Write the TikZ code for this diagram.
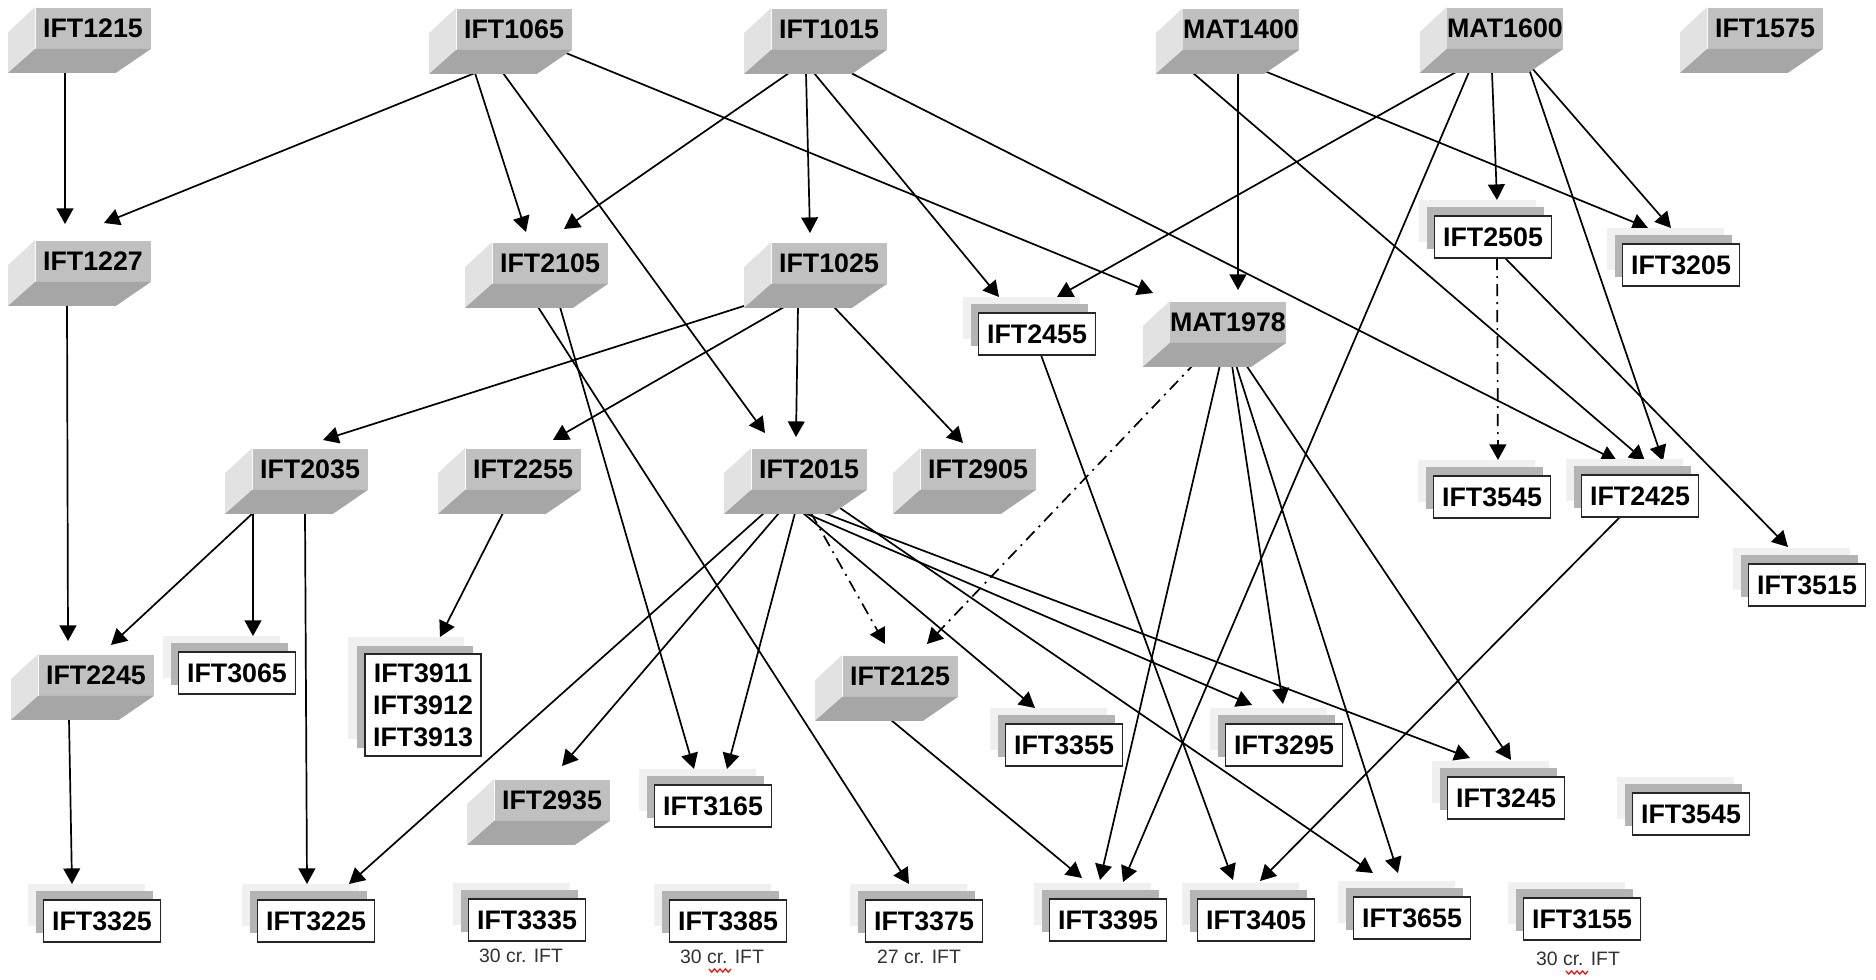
\documentclass[tikz,border=0pt]{standalone}
\usepackage{fontspec}
\setmainfont{Liberation Sans}
\usetikzlibrary{arrows.meta,calc}
\pgfdeclarelayer{bglayer}
\pgfdeclarelayer{edgelayer}
\pgfsetlayers{bglayer,edgelayer,main}
\definecolor{faceC}{RGB}{192,192,192}
\definecolor{leftC}{RGB}{226,226,226}
\definecolor{botC}{RGB}{166,166,166}
\definecolor{shLight}{RGB}{240,240,240}
\definecolor{shMid}{RGB}{180,180,180}
\definecolor{lblC}{RGB}{50,50,50}
\tikzset{
  codefont/.style={font=\fontsize{13.4}{16}\selectfont\bfseries},
  blockface/.style={codefont, fill=faceC, minimum width=57.5pt, minimum height=20.5pt, inner sep=0pt},
  whitebox/.style={codefont, fill=white, draw=black!85, line width=0.9pt, minimum width=58.5pt, minimum height=21pt, inner sep=0pt},
  crlabel/.style={font=\fontsize{9.7}{11}\selectfont, text=lblC, inner sep=0pt},
  arr/.style={line width=0.85pt, -{Triangle[length=7.8pt,width=8.4pt]}},
  dashdot/.style={arr, dash pattern=on 6pt off 3pt on 1pt off 3pt},
  squiggle/.style={red, line width=0.6pt},
}
\newcommand\course[3]{%
  \node[blockface] (#1) at (#2) {#3};
  \fill[leftC] (#1.north west) -- (#1.south west) -- ++(-27,24) -- ($(#1.north west)+(-27,25)$) -- cycle;
  \fill[botC] (#1.south west) -- (#1.south east) -- ++(-35,24) -- ($(#1.south west)+(-27,24)$) -- cycle;
}
\newcommand\cbox[3]{%
  \fill[shLight] ($(#2)+(-74.5,-37)$) rectangle ++(117,42);
  \fill[shMid] ($(#2)+(-66.5,-30)$) rectangle ++(117,42);
  \node[whitebox] (#1) at (#2) {#3};
}
\newcommand\conn[5][arr]{\draw[#1] ($(#2)+(#3)$) -- ($(#4)+(#5)$);}
\begin{document}
\begin{tikzpicture}[x=0.5pt,y=-0.5pt]
\useasboundingbox (0,0) rectangle (1876,980);
\begin{pgfonlayer}{bglayer}
  \fill[white] (0,0) rectangle (1876,980);
\end{pgfonlayer}

% 3D course blocks
\course{A1215}{93,28}{IFT1215}
\course{A1065}{514,29}{IFT1065}
\course{A1015}{829,29}{IFT1015}
\course{M1400}{1241,29}{MAT1400}
\course{M1600}{1505,28}{MAT1600}
\course{A1575}{1765,28}{IFT1575}
\course{A1227}{93,261}{IFT1227}
\course{A2105}{550,263}{IFT2105}
\course{A1025}{829,263}{IFT1025}
\course{M1978}{1228,322}{MAT1978}
\course{A2035}{310,469}{IFT2035}
\course{A2255}{523,469}{IFT2255}
\course{A2015}{809,469}{IFT2015}
\course{A2905}{978,469}{IFT2905}
\course{A2245}{96,675}{IFT2245}
\course{A2125}{900,676}{IFT2125}
\course{A2935}{552,800}{IFT2935}

% framed courses
\cbox{B2505}{1493,237}{IFT2505}
\cbox{B3205}{1681,265}{IFT3205}
\cbox{B2455}{1037,334}{IFT2455}
\cbox{B3545a}{1492,497}{IFT3545}
\cbox{B2425}{1640,496}{IFT2425}
\cbox{B3515}{1807,585}{IFT3515}
\cbox{B3065}{237,673}{IFT3065}
\cbox{B3355}{1064,745}{IFT3355}
\cbox{B3295}{1284,745}{IFT3295}
\cbox{B3165}{713,806}{IFT3165}
\cbox{B3245}{1506,798}{IFT3245}
\cbox{B3545b}{1691,814}{IFT3545}
\cbox{B3325}{102,921}{IFT3325}
\cbox{B3225}{316,921}{IFT3225}
\cbox{B3335}{527,920}{IFT3335}
\cbox{B3385}{728,921}{IFT3385}
\cbox{B3375}{924,921}{IFT3375}
\cbox{B3395}{1108,920}{IFT3395}
\cbox{B3405}{1256,920}{IFT3405}
\cbox{B3655}{1412,918}{IFT3655}
\cbox{B3155}{1582,919}{IFT3155}

% three-line framed box
\fill[shLight] (348,637) rectangle ++(116,102);
\fill[shMid] (357,646) rectangle ++(116,102);
\node[whitebox, minimum width=58pt, minimum height=51pt, align=center] (B3911) at (423,705) {IFT3911\\IFT3912\\IFT3913};

% credit notes
\node[crlabel] (L3335) at (521,956) {30 cr. IFT};
\node[crlabel] (L3385) at (722,957) {30 cr. IFT};
\node[crlabel] (L3375) at (919,957) {27 cr. IFT};
\node[crlabel] (L3155) at (1578,959) {30 cr. IFT};
\draw[squiggle] (709,969) \foreach \i in {1,...,4} { -- ++(2.75,3) -- ++(2.75,-3) };
\draw[squiggle] (1566,971) \foreach \i in {1,...,4} { -- ++(2.75,3) -- ++(2.75,-3) };

\begin{pgfonlayer}{edgelayer}
\conn{A1215}{-28,44}{A1227}{-28,-37}
\conn{A1065}{-39,44}{A1227}{11,-38}
\conn{A1065}{-39,44}{A2105}{-24,-31}
\conn{A1065}{-11,44}{A2015}{-44,-36}
\conn{A1065}{52,24}{M1978}{-75,-29}
\conn{A1015}{-40,44}{A2105}{14,-34}
\conn{A1015}{-23,44}{A1025}{-19,-30}
\conn{A1015}{-15,44}{B2455}{-38,-37}
\conn{A1015}{16,41}{B2425}{-23,-35}
\conn{M1400}{-3,44}{M1978}{10,-32}
\conn{M1400}{21,41}{B3205}{-33,-37}
\conn{M1400}{-48,44}{B2425}{5,-35}
\conn{M1600}{-49,44}{B2455}{20,-37}
\conn{M1600}{-36,44}{B3395}{15,-38}
\conn{M1600}{-13,44}{B2505}{4,-37}
\conn{M1600}{24,41}{B2425}{23,-35}
\conn{M1600}{26,39}{B3205}{-10,-37}
\conn[dashdot]{B2505}{4,21}{B3545a}{6,-37}
\conn{B2505}{12,21}{B3515}{-19,-38}
\conn{A1227}{-26,44}{A2245}{-28,-34}
\conn{A2105}{10,44}{B3165}{-19,-37}
\conn{A2105}{-12,44}{B3375}{-15,-37}
\conn{A1025}{-82,42}{A2035}{13,-29}
\conn{A1025}{-45,44}{A2255}{30,-29}
\conn{A1025}{-31,44}{A2015}{-13,-32}
\conn{A1025}{5,44}{A2905}{-15,-26}
\conn[dashdot]{M1978}{-32,40}{A2125}{27,-32}
\conn{M1978}{-8,43}{B3395}{-8,-40}
\conn{M1978}{4,43}{B3295}{-1,-41}
\conn{M1978}{8,43}{B3655}{-14,-45}
\conn{M1978}{16,40}{B3245}{5,-38}
\conn{B2455}{4,21}{B3405}{-23,-40}
\conn{B2425}{-20,21}{B3405}{4,-39}
\conn{A2035}{-57,44}{A2245}{15,-30}
\conn{A2035}{-57,44}{B3065}{16,-37}
\conn{A2035}{-5,44}{B3225}{-9,-37}
\conn{A2255}{-20,44}{B3911}{17,-68}
\conn{A2015}{-45,44}{B3225}{33,-37}
\conn{A2015}{-30,44}{A2935}{10,-34}
\conn{A2015}{-14,44}{B3165}{14,-37}
\conn[dashdot]{A2015}{2,44}{A2125}{-15,-32}
\conn{A2015}{-6,44}{B3355}{-29,-37}
\conn{A2015}{-4,44}{B3295}{-32,-40}
\conn{A2015}{15,44}{B3245}{-36,-40}
\conn{A2015}{31,39}{B3655}{-39,-45}
\conn{A2245}{-27,44}{B3325}{-30,-37}
\conn{A2125}{-9,44}{B3395}{-26,-42}
\end{pgfonlayer}
\end{tikzpicture}
\end{document}
